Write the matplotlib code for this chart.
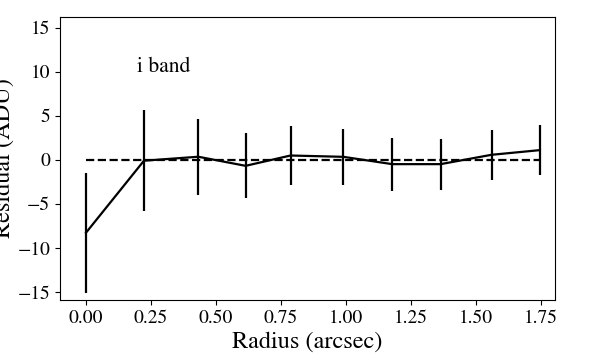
import numpy as np
import matplotlib
matplotlib.use('Agg')
import matplotlib.pyplot as plt

# RESIDUAL PROFILE, I BAND
radius = [0.00, 0.223, 0.432, 0.614, 0.787, 0.99, 1.178, 1.364, 1.56, 1.746]
residual = [-8.27, -0.1, 0.35, -0.68, 0.49, 0.34, -0.49, -0.49, 0.57, 1.1]
error = [6.8, 5.7, 4.3, 3.7, 3.4, 3.2, 3.0, 2.9, 2.85, 2.8]

plt.rcParams['font.family'] = ['STIXGeneral', 'Liberation Serif', 'DejaVu Serif']
plt.rcParams['mathtext.fontset'] = 'stix'

fig = plt.figure(figsize=(5.98, 3.54), dpi=100)
ax = fig.add_axes([0.1003, 0.1525, 0.8277, 0.7995])

ax.errorbar(radius, residual, yerr=error, color='black', lw=1.6, elinewidth=1.6, capsize=0)
ax.plot([radius[0], radius[-1]], [0, 0], 'k--', lw=1.6)

ax.text(0.196, 10.0, 'i band', fontsize=15.5)

ax.set_xlim(-0.1, 1.804)
ax.set_ylim(-15.9, 16.2)
ax.set_xticks(np.arange(0, 1.76, 0.25))
ax.set_yticks(np.arange(-15, 16, 5))
ax.tick_params(labelsize=14)
ax.set_xlabel('Radius (arcsec)', fontsize=17.5, labelpad=3)
ax.set_ylabel('Residual (ADU)', fontsize=17.5, labelpad=2)

fig.savefig('out.png', dpi=100)
